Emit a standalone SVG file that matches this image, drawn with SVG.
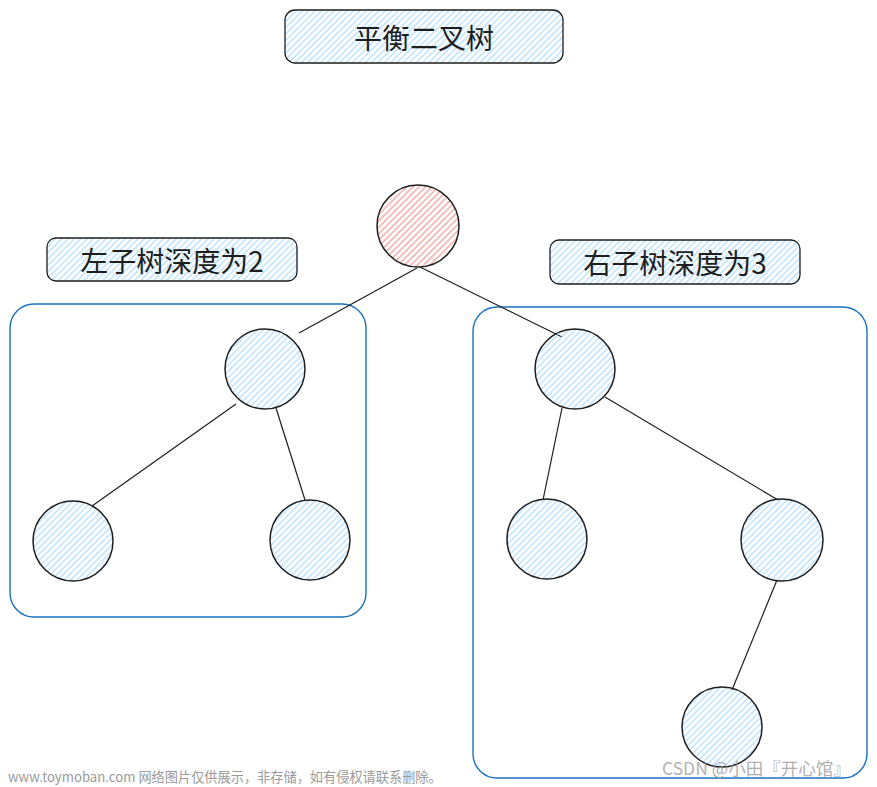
<svg xmlns="http://www.w3.org/2000/svg" width="877" height="787" viewBox="0 0 877 787">
<defs>
<pattern id="hb" patternUnits="userSpaceOnUse" width="4.5" height="4.5" patternTransform="rotate(45)">
<line x1="1" y1="0" x2="1" y2="4.5" stroke="#a5d8ff" stroke-width="1.1"/>
</pattern>
<pattern id="hr" patternUnits="userSpaceOnUse" width="4.5" height="4.5" patternTransform="rotate(45)">
<line x1="1" y1="0" x2="1" y2="4.5" stroke="#f08c8c" stroke-width="1.1"/>
</pattern>
<style>
.lbl{fill:url(#hb);stroke:#1e1e1e;stroke-width:1.3}
.txt{font-family:"Noto Sans CJK SC","Noto Sans",sans-serif;font-size:28px;fill:#1e1e1e;text-anchor:middle;dominant-baseline:central}
.node{fill:url(#hb);stroke:#1e1e1e;stroke-width:1.5}
.box{fill:none;stroke:#1971c2;stroke-width:1.4}
.edge{stroke:#1e1e1e;stroke-width:1.2;fill:none}
.wm{font-family:"Noto Sans CJK SC","Noto Sans",sans-serif;fill:#9a9a9a}
</style>
</defs>
<rect width="877" height="787" fill="#ffffff"/>

<g id="title">
<rect class="lbl" x="285" y="10" width="278" height="53" rx="10"/>
<text class="txt" x="424" y="37">平衡二叉树</text>
</g>

<g id="left-box"><rect class="box" x="10" y="304" width="356" height="313" rx="24"/></g>
<g id="right-box"><rect class="box" x="473" y="307" width="394" height="471" rx="24"/></g>

<g id="left-label">
<rect class="lbl" x="47" y="238" width="250" height="43" rx="9"/>
<text class="txt" x="172" y="260">左子树深度为2</text>
</g>
<g id="right-label">
<rect class="lbl" x="550" y="240" width="250" height="44" rx="9"/>
<text class="txt" x="675" y="262">右子树深度为3</text>
</g>

<g id="connectors">
<line class="edge" x1="417" y1="268" x2="299" y2="333"/>
<line class="edge" x1="420" y1="267" x2="562" y2="337"/>
<line class="edge" x1="236" y1="404" x2="92" y2="506"/>
<line class="edge" x1="276" y1="408" x2="305" y2="500"/>
<line class="edge" x1="562" y1="408" x2="543" y2="500"/>
<line class="edge" x1="605" y1="397" x2="778" y2="500"/>
<line class="edge" x1="777" y1="580" x2="732" y2="690"/>
</g>

<g id="root"><circle cx="418" cy="226" r="41" fill="url(#hr)" stroke="#1e1e1e" stroke-width="1.5"/></g>
<g id="l1"><circle class="node" cx="265" cy="369" r="40"/></g>
<g id="l2a"><circle class="node" cx="73" cy="541" r="40"/></g>
<g id="l2b"><circle class="node" cx="310" cy="540" r="40"/></g>
<g id="r1"><circle class="node" cx="575" cy="369" r="40"/></g>
<g id="r2a"><circle class="node" cx="547" cy="539" r="40"/></g>
<g id="r2b"><circle class="node" cx="782" cy="540" r="41"/></g>
<g id="r3"><circle class="node" cx="722" cy="727" r="40"/></g>

<text class="wm" x="8" y="782" font-size="13.2">www.toymoban.com 网络图片仅供展示，非存储，如有侵权请联系删除。</text>
<text class="wm" x="662" y="775" font-size="17.5" fill-opacity="0.8">CSDN @小田『开心馆』</text>
</svg>
